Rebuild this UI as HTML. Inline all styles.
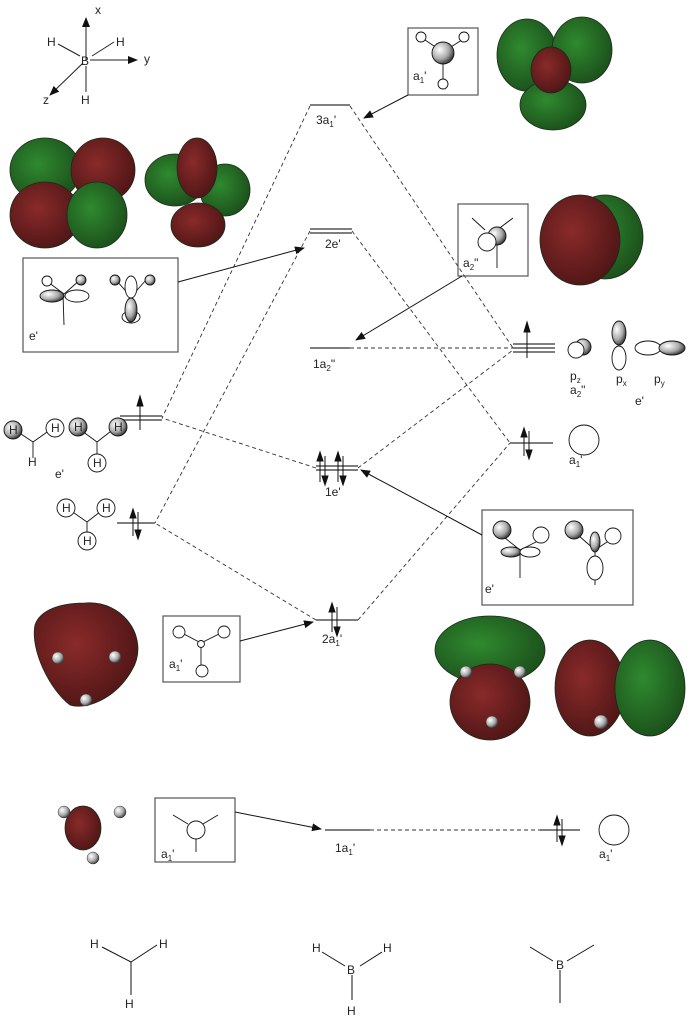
<!DOCTYPE html>
<html><head><meta charset="utf-8"><style>
html,body{margin:0;padding:0;background:#fff}
svg{display:block}
text{font-family:"Liberation Sans",sans-serif;font-size:12px;fill:#222}
.s{font-size:8px}
</style></head><body>
<svg width="691" height="1018" viewBox="0 0 691 1018" xmlns="http://www.w3.org/2000/svg">
<defs>
<marker id="ah" markerWidth="10" markerHeight="8" refX="9" refY="4" orient="auto" markerUnits="userSpaceOnUse"><path d="M0,0 L10,4 L0,8 z" fill="#111"/></marker>
<radialGradient id="ball" cx="0.35" cy="0.35" r="0.7"><stop offset="0" stop-color="#fff"/><stop offset="0.6" stop-color="#aaa"/><stop offset="1" stop-color="#333"/></radialGradient>
<radialGradient id="red" cx="0.4" cy="0.4" r="0.7"><stop offset="0" stop-color="#8a2a2a"/><stop offset="1" stop-color="#4a1414"/></radialGradient>
<radialGradient id="grn" cx="0.4" cy="0.4" r="0.7"><stop offset="0" stop-color="#2f8a2f"/><stop offset="1" stop-color="#1a4a1a"/></radialGradient>
</defs>
<g stroke="#222" fill="none" stroke-width="1">
<line x1="86" y1="60" x2="86" y2="18" marker-end="url(#ah)"/>
<line x1="90" y1="60" x2="137" y2="60" marker-end="url(#ah)"/>
<line x1="83" y1="63" x2="50" y2="95" marker-end="url(#ah)"/>
<line x1="80" y1="56" x2="58" y2="44"/><line x1="92" y1="56" x2="114" y2="42"/><line x1="86" y1="66" x2="86" y2="92"/>
</g>
<text x="95" y="14">x</text><text x="144" y="63">y</text><text x="43" y="104">z</text>
<text x="47" y="46">H</text><text x="116" y="46">H</text><text x="81" y="65">B</text><text x="81" y="104">H</text>

<g stroke="#555" stroke-width="1.6" fill="none">
<line x1="310" y1="105" x2="350" y2="105"/>
<line x1="310" y1="229" x2="352" y2="229"/><line x1="310" y1="233" x2="352" y2="233"/>
<line x1="310" y1="348" x2="350" y2="348"/>
<line x1="316" y1="466" x2="358" y2="466"/><line x1="316" y1="470" x2="358" y2="470"/>
<line x1="316" y1="620" x2="358" y2="620"/>
<line x1="325" y1="830" x2="370" y2="830"/>
<line x1="120" y1="416" x2="162" y2="416"/><line x1="120" y1="420" x2="162" y2="420"/>
<line x1="117" y1="523" x2="155" y2="523"/>
<line x1="513" y1="344" x2="555" y2="344"/><line x1="513" y1="348" x2="555" y2="348"/><line x1="513" y1="352" x2="555" y2="352"/>
<line x1="510" y1="443" x2="553" y2="443"/>
<line x1="540" y1="830" x2="580" y2="830"/>
</g>
<g stroke="#333" stroke-width="0.9" stroke-dasharray="4,3" fill="none">
<line x1="310" y1="106" x2="162" y2="418"/>
<line x1="350" y1="106" x2="513" y2="348"/>
<line x1="310" y1="231" x2="155" y2="523"/>
<line x1="352" y1="231" x2="510" y2="443"/>
<line x1="350" y1="348" x2="513" y2="348"/>
<line x1="316" y1="468" x2="162" y2="418"/>
<line x1="358" y1="468" x2="513" y2="350"/>
<line x1="316" y1="620" x2="155" y2="523"/>
<line x1="358" y1="620" x2="510" y2="443"/>
<line x1="370" y1="830" x2="540" y2="830"/>
</g>
<g stroke="#111" stroke-width="1" fill="#111">
<line x1="140" y1="430" x2="140" y2="400"/><path d="M140,396 l-3,10 h6z"/>
<line x1="133" y1="536" x2="133" y2="512"/><path d="M133,509 l-3,9 h6z"/><line x1="138" y1="512" x2="138" y2="536"/><path d="M138,539 l-3,-9 h6z"/>
<line x1="527" y1="358" x2="527" y2="326"/><path d="M527,322 l-3,10 h6z"/>
<line x1="524" y1="456" x2="524" y2="431"/><path d="M524,428 l-3,9 h6z"/><line x1="529" y1="431" x2="529" y2="456"/><path d="M529,459 l-3,-9 h6z"/>
<line x1="320" y1="482" x2="320" y2="456"/><path d="M320,452 l-3,9 h6z"/><line x1="325" y1="456" x2="325" y2="482"/><path d="M325,485 l-3,-9 h6z"/>
<line x1="338" y1="482" x2="338" y2="456"/><path d="M338,452 l-3,9 h6z"/><line x1="343" y1="456" x2="343" y2="482"/><path d="M343,485 l-3,-9 h6z"/>
<line x1="332" y1="632" x2="332" y2="606"/><path d="M332,603 l-3,9 h6z"/><line x1="337" y1="607" x2="337" y2="633"/><path d="M337,636 l-3,-9 h6z"/>
<line x1="557" y1="842" x2="557" y2="819"/><path d="M557,816 l-3,9 h6z"/><line x1="562" y1="819" x2="562" y2="842"/><path d="M562,845 l-3,-9 h6z"/>
</g>
<text x="316" y="124">3a<tspan class="s" dy="3">1</tspan><tspan dy="-3">'</tspan></text>
<text x="325" y="248">2e'</text>
<text x="313" y="368">1a<tspan class="s" dy="3">2</tspan><tspan dy="-3">"</tspan></text>
<text x="325" y="496">1e'</text>
<text x="322" y="643">2a<tspan class="s" dy="3">1</tspan><tspan dy="-3">'</tspan></text>
<text x="335" y="852">1a<tspan class="s" dy="3">1</tspan><tspan dy="-3">'</tspan></text>

<g stroke="#555" stroke-width="1.2" fill="none">
<rect x="408" y="28" width="70" height="67"/>
<rect x="458" y="204" width="70" height="72"/>
<rect x="23" y="258" width="155" height="94"/>
<rect x="482" y="510" width="151" height="95"/>
<rect x="163" y="616" width="77" height="66"/>
<rect x="155" y="798" width="80" height="64"/>
</g>
<g stroke="#111" stroke-width="1" fill="none">
<line x1="408" y1="95" x2="364" y2="118" marker-end="url(#ah)"/>
<line x1="462" y1="276" x2="356" y2="340" marker-end="url(#ah)"/>
<line x1="178" y1="282" x2="304" y2="248" marker-end="url(#ah)"/>
<line x1="482" y1="535" x2="361" y2="470" marker-end="url(#ah)"/>
<line x1="240" y1="641" x2="313" y2="622" marker-end="url(#ah)"/>
<line x1="235" y1="812" x2="321" y2="829" marker-end="url(#ah)"/>
</g>
<g stroke="#111" stroke-width="0.9">
<line x1="422" y1="38" x2="443" y2="52"/><line x1="465" y1="38" x2="443" y2="52"/><line x1="443" y1="52" x2="443" y2="80"/>
<circle cx="421" cy="37" r="5" fill="#fff"/><circle cx="464" cy="37" r="5" fill="#fff"/><circle cx="443" cy="84" r="5" fill="#fff"/>
<circle cx="443" cy="53" r="11" fill="url(#ball)"/>
<line x1="472" y1="218" x2="485" y2="230"/><line x1="513" y1="218" x2="497" y2="230"/><line x1="497" y1="240" x2="497" y2="268"/>
<circle cx="497" cy="236" r="9" fill="url(#ball)"/><circle cx="487" cy="242" r="9" fill="#fff"/>
<line x1="63" y1="294" x2="64" y2="325"/><line x1="48" y1="282" x2="64" y2="294"/><line x1="80" y1="280" x2="64" y2="294"/>
<circle cx="47" cy="281" r="5" fill="#fff"/><circle cx="81" cy="280" r="5" fill="url(#ball)"/>
<ellipse cx="52" cy="296" rx="12" ry="6" fill="url(#ball)"/><ellipse cx="77" cy="296" rx="12" ry="6" fill="#fff"/>
<line x1="116" y1="280" x2="131" y2="297"/><line x1="146" y1="280" x2="131" y2="297"/>
<circle cx="115" cy="280" r="5" fill="url(#ball)"/><circle cx="150" cy="280" r="5" fill="url(#ball)"/>
<ellipse cx="131" cy="287" rx="6" ry="11" fill="#fff"/><ellipse cx="131" cy="317" rx="9" ry="6" fill="#fff"/><ellipse cx="131" cy="310" rx="6" ry="12" fill="url(#ball)"/>
<line x1="505" y1="538" x2="520" y2="550"/><line x1="520" y1="550" x2="520" y2="578"/><line x1="520" y1="550" x2="540" y2="540"/>
<circle cx="502" cy="530" r="9" fill="url(#ball)"/><circle cx="541" cy="535" r="8" fill="#fff"/>
<ellipse cx="511" cy="552" rx="10" ry="5" fill="url(#ball)"/><ellipse cx="530" cy="552" rx="10" ry="5" fill="#fff"/>
<line x1="578" y1="535" x2="595" y2="550"/><line x1="595" y1="550" x2="595" y2="585"/><line x1="595" y1="550" x2="610" y2="540"/>
<circle cx="574" cy="530" r="9" fill="url(#ball)"/><circle cx="613" cy="536" r="8" fill="#fff"/>
<ellipse cx="595" cy="542" rx="5" ry="10" fill="url(#ball)"/><ellipse cx="595" cy="568" rx="8" ry="12" fill="#fff"/>
<line x1="180" y1="632" x2="201" y2="643"/><line x1="223" y1="632" x2="201" y2="643"/><line x1="201" y1="643" x2="201" y2="665"/>
<circle cx="179" cy="632" r="6" fill="#fff"/><circle cx="224" cy="632" r="6" fill="#fff"/><circle cx="202" cy="671" r="6" fill="#fff"/><circle cx="201" cy="644" r="3.5" fill="#fff"/>
<line x1="173" y1="815" x2="188" y2="824"/><line x1="218" y1="815" x2="203" y2="824"/><line x1="196" y1="838" x2="196" y2="852"/>
<circle cx="196" cy="830" r="9" fill="#fff"/>
<circle cx="583" cy="347" r="8" fill="url(#ball)"/><circle cx="576" cy="350" r="8" fill="#fff"/>
<ellipse cx="619" cy="333" rx="7" ry="12" fill="url(#ball)"/><ellipse cx="619" cy="358" rx="7" ry="12" fill="#fff"/>
<ellipse cx="648" cy="348" rx="13" ry="7" fill="#fff"/><ellipse cx="672" cy="348" rx="13" ry="7" fill="url(#ball)"/>
<circle cx="584" cy="440" r="15" fill="#fff"/>
<circle cx="614" cy="830" r="15" fill="#fff"/>
<line x1="15" y1="430" x2="33" y2="442"/><line x1="33" y1="442" x2="50" y2="430"/><line x1="33" y1="442" x2="33" y2="458"/>
<circle cx="13" cy="430" r="9" fill="url(#ball)"/><circle cx="55" cy="428" r="9" fill="#fff"/>
<line x1="78" y1="428" x2="97" y2="442"/><line x1="97" y1="442" x2="115" y2="428"/><line x1="97" y1="442" x2="97" y2="455"/>
<circle cx="78" cy="427" r="9" fill="url(#ball)"/><circle cx="118" cy="427" r="9" fill="url(#ball)"/><circle cx="97" cy="463" r="9" fill="#fff"/>
<line x1="67" y1="508" x2="87" y2="522"/><line x1="87" y1="522" x2="105" y2="508"/><line x1="87" y1="522" x2="87" y2="535"/>
<circle cx="66" cy="508" r="9" fill="#fff"/><circle cx="106" cy="508" r="9" fill="#fff"/><circle cx="87" cy="541" r="9" fill="#fff"/>
</g>
<text x="9" y="434" font-size="11">H</text><text x="51" y="432" font-size="11">H</text><text x="28" y="466" font-size="11">H</text>
<text x="74" y="431" font-size="11">H</text><text x="114" y="431" font-size="11">H</text><text x="93" y="467" font-size="11">H</text>
<text x="62" y="512" font-size="11">H</text><text x="102" y="512" font-size="11">H</text><text x="83" y="545" font-size="11">H</text>
<text x="55" y="478">e'</text>
<text x="72" y="640">a<tspan class="s" dy="3">1</tspan><tspan dy="-3">'</tspan></text>
<text x="413" y="80">a<tspan class="s" dy="3">1</tspan><tspan dy="-3">'</tspan></text>
<text x="463" y="267">a<tspan class="s" dy="3">2</tspan><tspan dy="-3">"</tspan></text>
<text x="29" y="340">e'</text><text x="485" y="593">e'</text>
<text x="169" y="668">a<tspan class="s" dy="3">1</tspan><tspan dy="-3">'</tspan></text>
<text x="161" y="858">a<tspan class="s" dy="3">1</tspan><tspan dy="-3">'</tspan></text>
<text x="570" y="380">p<tspan class="s" dy="3">z</tspan></text>
<text x="570" y="394">a<tspan class="s" dy="3">2</tspan><tspan dy="-3">"</tspan></text>
<text x="616" y="383">p<tspan class="s" dy="3">x</tspan></text>
<text x="654" y="383">p<tspan class="s" dy="3">y</tspan></text>
<text x="635" y="405">e'</text>
<text x="569" y="464">a<tspan class="s" dy="3">1</tspan><tspan dy="-3">'</tspan></text>
<text x="599" y="858">a<tspan class="s" dy="3">1</tspan><tspan dy="-3">'</tspan></text>

<g stroke="#1a2a1a" stroke-width="0.8">
<ellipse cx="45" cy="170" rx="35" ry="32" fill="url(#grn)"/><ellipse cx="103" cy="170" rx="32" ry="32" fill="url(#red)"/>
<ellipse cx="45" cy="215" rx="35" ry="33" fill="url(#red)"/><ellipse cx="97" cy="215" rx="30" ry="33" fill="url(#grn)"/>
<ellipse cx="175" cy="180" rx="30" ry="26" fill="url(#grn)"/><ellipse cx="225" cy="190" rx="25" ry="26" fill="url(#grn)"/>
<ellipse cx="197" cy="168" rx="20" ry="30" fill="url(#red)"/><ellipse cx="198" cy="225" rx="27" ry="22" fill="url(#red)"/>
<ellipse cx="527" cy="55" rx="30" ry="36" fill="url(#grn)"/><ellipse cx="582" cy="50" rx="30" ry="33" fill="url(#grn)"/>
<ellipse cx="553" cy="105" rx="33" ry="25" fill="url(#grn)"/><ellipse cx="551" cy="70" rx="20" ry="23" fill="url(#red)"/>
<ellipse cx="605" cy="237" rx="38" ry="42" fill="url(#grn)"/><ellipse cx="580" cy="240" rx="40" ry="45" fill="url(#red)"/>
<path d="M85,603 C125,600 150,640 132,670 C115,700 85,710 70,705 C50,690 30,650 35,625 C40,610 60,603 85,603z" fill="url(#red)"/>
<ellipse cx="490" cy="650" rx="55" ry="34" fill="url(#grn)"/><ellipse cx="490" cy="702" rx="40" ry="38" fill="url(#red)"/>
<ellipse cx="590" cy="688" rx="35" ry="48" fill="url(#red)"/><ellipse cx="650" cy="688" rx="35" ry="48" fill="url(#grn)"/>
<ellipse cx="83" cy="828" rx="18" ry="22" fill="url(#red)"/>
</g>
<g fill="url(#ball)" stroke="#333" stroke-width="0.5">
<circle cx="64" cy="812" r="6"/><circle cx="120" cy="812" r="6"/><circle cx="93" cy="858" r="6"/>
<circle cx="58" cy="658" r="6"/><circle cx="115" cy="657" r="6"/><circle cx="86" cy="700" r="6"/>
<circle cx="466" cy="672" r="6"/><circle cx="520" cy="672" r="6"/><circle cx="492" cy="722" r="6"/>
<circle cx="601" cy="722" r="7"/>
</g>

<g stroke="#111" stroke-width="1" fill="none">
<line x1="102" y1="947" x2="131" y2="962"/><line x1="131" y1="962" x2="157" y2="945"/><line x1="131" y1="962" x2="131" y2="995"/>
<line x1="322" y1="952" x2="345" y2="966"/><line x1="360" y1="966" x2="382" y2="952"/><line x1="352" y1="975" x2="352" y2="1000"/>
<line x1="530" y1="947" x2="553" y2="961"/><line x1="567" y1="961" x2="594" y2="945"/><line x1="560" y1="970" x2="560" y2="1003"/>
</g>
<text x="90" y="948">H</text><text x="159" y="948">H</text><text x="125" y="1008">H</text>
<text x="312" y="952">H</text><text x="383" y="952">H</text><text x="347" y="974">B</text><text x="347" y="1015">H</text>
<text x="556" y="969">B</text>
</svg>
</body></html>
